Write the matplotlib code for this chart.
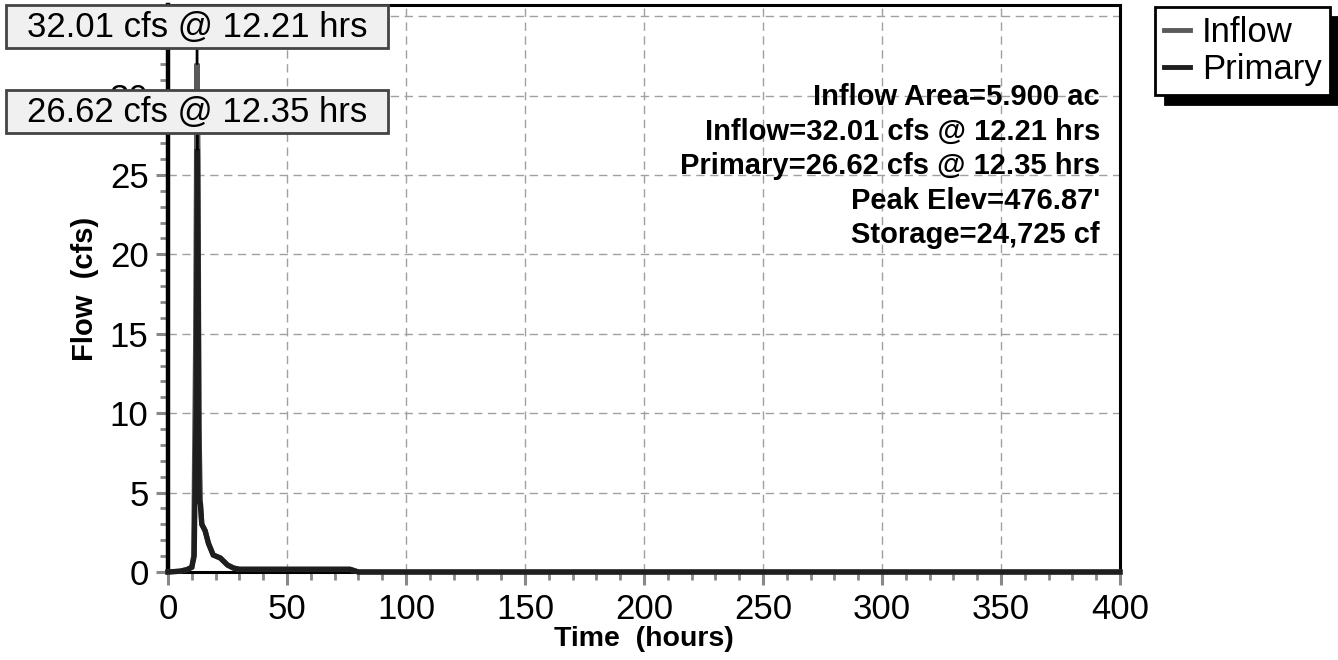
import matplotlib
matplotlib.use("Agg")
import matplotlib.pyplot as plt
from matplotlib.patches import Rectangle
from matplotlib.ticker import MultipleLocator

plt.rcParams['font.family'] = ['Liberation Sans', 'DejaVu Sans']

# hydrograph data (hours, cfs)
inflow_t = [0, 5, 8, 10, 10.8, 11.6, 12.21, 12.6, 13.0, 13.6, 14.2, 15.6, 17.0, 19.0,
            22.0, 25.0, 27.5, 30.0, 76.5, 80.0, 400]
inflow_q = [0, 0.05, 0.15, 0.3, 1.0, 14.0, 32.01, 26.0, 9.0, 4.4, 3.0, 2.6, 1.8, 1.07,
            0.88, 0.44, 0.25, 0.17, 0.17, 0, 0]
primary_t = [0, 5, 8, 10, 11.0, 11.8, 12.35, 12.7, 13.1, 13.6, 14.2, 15.6, 17.0, 19.0,
             22.0, 25.0, 27.5, 30.0, 76.5, 80.0, 400]
primary_q = [0, 0.05, 0.15, 0.3, 1.0, 10.0, 26.62, 18.0, 4.5, 4.3, 3.0, 2.6, 1.8, 1.07,
             0.88, 0.44, 0.25, 0.17, 0.17, 0, 0]

peak_labels = ["32.01 cfs @ 12.21 hrs", "26.62 cfs @ 12.35 hrs"]
info_lines = ["Inflow Area=5.900 ac",
              "Inflow=32.01 cfs @ 12.21 hrs",
              "Primary=26.62 cfs @ 12.35 hrs",
              "Peak Elev=476.87'",
              "Storage=24,725 cf"]

W, H = 1338, 660
fig = plt.figure(figsize=(W / 100, H / 100), dpi=100, facecolor='white')
ax = fig.add_axes([168 / W, 1 - 572 / H, (1120 - 168) / W, (572 - 5) / H])

c_in, c_pr = '#5a5a5a', '#1e1e1e'
ax.plot(inflow_t, inflow_q, color=c_in, lw=3.8, solid_joinstyle='miter', clip_on=False, zorder=3)
ax.plot(primary_t, primary_q, color=c_pr, lw=3.8, solid_joinstyle='miter', clip_on=False, zorder=4)

ax.set_xlim(0, 400)
ax.set_ylim(0, 35.7)
ax.xaxis.set_major_locator(MultipleLocator(50))
ax.xaxis.set_minor_locator(MultipleLocator(10))
ax.yaxis.set_major_locator(MultipleLocator(5))
ax.yaxis.set_minor_locator(MultipleLocator(1))
ax.grid(True, which='major', color='#a0a0a0', lw=1.0, ls=(0, (6, 4)))
ax.set_axisbelow(True)
ax.tick_params(which='major', direction='out', length=9, width=2.2, color='#888888',
               labelsize=25, pad=5)
ax.tick_params(which='minor', direction='out', length=5.5, width=2.0, color='#888888')
ax.tick_params(axis='x', which='major', pad=6)
for side in ['top', 'right', 'bottom']:
    ax.spines[side].set_linewidth(2.2)
ax.spines['left'].set_linewidth(3.2)
for s in ax.spines.values():
    s.set_color('black')

ax.set_xlabel("Time  (hours)", fontsize=20.5, fontweight='bold', labelpad=0)
ax.set_ylabel("Flow  (cfs)", fontsize=21, fontweight='bold', labelpad=8)

ax.text((1100 - 168) / (1120 - 168), (572 - 83) / (572 - 5), "\n".join(info_lines),
        transform=ax.transAxes, ha='right', va='top', fontsize=21, fontweight='bold',
        linespacing=1.3, zorder=6)

# peak call-outs
fig.canvas.draw()
series = [(inflow_t, inflow_q), (primary_t, primary_q)]
box_tops = [5, 90]
for (t, q), lab, top in zip(series, peak_labels, box_tops):
    i = q.index(max(q))
    px = ax.transData.transform((t[i], 0))[0]
    bw, bh = 382, 43
    fig.patches.append(Rectangle((px - bw / 2, H - top - bh), bw, bh,
                                 transform=None, fc='#f0f0f0', ec='#444444', lw=2, zorder=5))
    fig.text(px / W, (H - top - bh / 2 - 1) / H, lab, ha='center', va='center',
             fontsize=25, zorder=6)
    ax.annotate('', xy=(t[i], q[i]), xycoords='data',
                xytext=(t[i], H - top - bh), textcoords=('data', 'figure pixels'),
                arrowprops=dict(arrowstyle='-', color='black', lw=2,
                                shrinkA=0, shrinkB=0), annotation_clip=False, zorder=5)

leg = fig.legend(['Inflow', 'Primary'], loc='upper left',
                 bbox_to_anchor=(1155 / W, 1 - 7 / H), borderaxespad=0,
                 fontsize=25, fancybox=False, handlelength=0.75, handletextpad=0.35,
                 labelspacing=0.12, borderpad=0.25, framealpha=1,
                 shadow={'ox': 7, 'oy': -7, 'facecolor': 'black', 'edgecolor': 'black', 'alpha': 1})
leg.get_frame().set_edgecolor('black')
leg.get_frame().set_linewidth(2)
for h, c in zip(leg.get_lines(), [c_in, c_pr]):
    h.set_color(c)
    h.set_linewidth(3.5)

fig.savefig('out.png', dpi=100, facecolor='white')
